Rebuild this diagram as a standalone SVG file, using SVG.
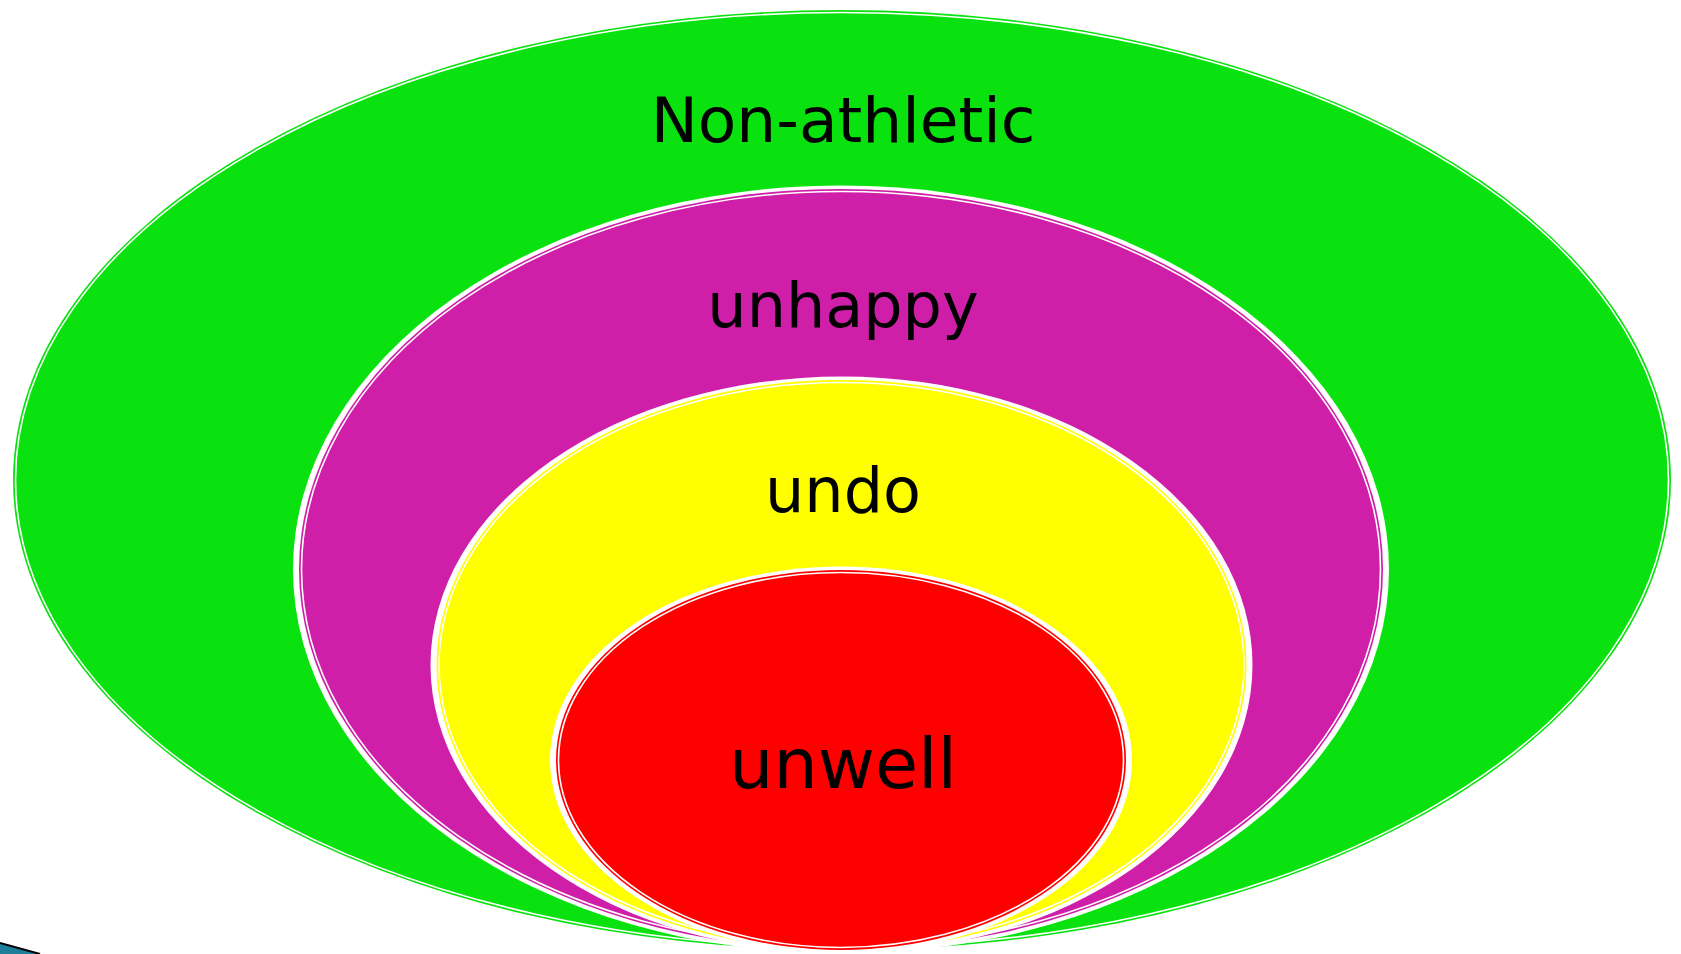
<svg xmlns="http://www.w3.org/2000/svg" width="1681" height="954" viewBox="0 0 1681 954">
<style>
.band{fill:#ffffff}
.inner{fill:none;stroke:#ffffff;stroke-width:1.6}
.lbl{font-family:"DejaVu Sans","Liberation Sans",sans-serif;fill:#000000;text-anchor:middle}
</style>
<rect width="1681" height="954" fill="#ffffff"/>
<path d="M0,943 L40,954 L0,954 Z" fill="#1f7f9a"/>
<path d="M0,943 L40,954" stroke="#000" stroke-width="2" fill="none"/>
<g id="node-nonathletic">
<ellipse cx="842" cy="480" rx="829" ry="470" fill="#0ae20f"/>
<ellipse class="inner" cx="842" cy="480" rx="826.5" ry="467.5"/>
<text class="lbl" x="843" y="142" font-size="63">Non-athletic</text>
</g>
<g id="node-unhappy">
<ellipse class="band" cx="841" cy="569.5" rx="548" ry="384"/>
<ellipse cx="841" cy="569.5" rx="542" ry="380.5" fill="#cf1fa9"/>
<ellipse class="inner" cx="841" cy="569.5" rx="539.5" ry="378"/>
<text class="lbl" x="843" y="327" font-size="62">unhappy</text>
</g>
<g id="node-undo">
<ellipse class="band" cx="841.5" cy="665" rx="411" ry="288.5"/>
<ellipse cx="841.5" cy="665" rx="405" ry="285" fill="#ffff00"/>
<ellipse class="inner" cx="841.5" cy="665" rx="402.5" ry="282.5"/>
<text class="lbl" x="843" y="512" font-size="62">undo</text>
</g>
<g id="node-unwell">
<ellipse class="band" cx="841" cy="760" rx="291" ry="193.5"/>
<ellipse cx="841" cy="760" rx="285" ry="190" fill="#ff0000"/>
<ellipse class="inner" cx="841" cy="760" rx="282.5" ry="187.5"/>
<text class="lbl" x="843" y="788" font-size="70">unwell</text>
</g>
<g id="connectors"></g>
</svg>
